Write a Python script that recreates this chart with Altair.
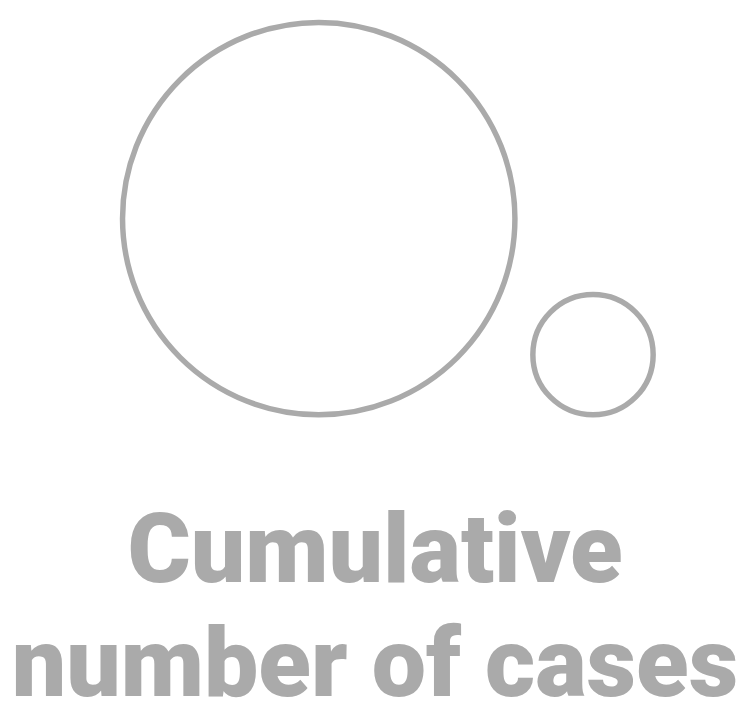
import altair as alt
import pandas as pd

# Legend values shown as circles (area proportional to cumulative cases)
legend_values = [100000, 9400]
legend_title = ["Cumulative", "number of cases"]

circle_color = "#aaaaaa"
max_area = 155236  # symbol size of the largest value (diameter squared)
left_edge = 123  # page x of the left side of the first circle
gap = 18  # space between circles
baseline = 415  # page y the circles sit on

plot_w = 737
plot_h = 432

df = pd.DataFrame({"cases": legend_values})

chart = alt.Chart(df).transform_calculate(
    r=f"sqrt(datum.cases / {max(legend_values)} * {max_area}) / 2"
).transform_calculate(
    d="2 * datum.r"
).transform_window(
    cum="sum(d)", rn="row_number()",
    sort=[alt.SortField("cases", order="descending")],
    frame=[None, 0]
).transform_calculate(
    cx=f"{left_edge} + datum.cum - datum.r + {gap} * (datum.rn - 1)",
    cy=f"{baseline} - datum.r"
).mark_point(
    filled=False, strokeWidth=5.5, color=circle_color, opacity=1, shape="circle"
).encode(
    x=alt.X("cx:Q", scale=alt.Scale(domain=[8, 8 + plot_w], nice=False, zero=False), axis=None),
    y=alt.Y("cy:Q", scale=alt.Scale(domain=[8, 8 + plot_h], nice=False, zero=False, reverse=True), axis=None),
    size=alt.Size("cases:Q", scale=alt.Scale(domain=[0, max(legend_values)], range=[0, max_area]), legend=None),
).properties(
    width=plot_w,
    height=plot_h,
    title=alt.TitleParams(
        text=legend_title,
        orient="bottom",
        anchor="middle",
        font="Roboto",
        fontWeight=900,
        fontSize=97,
        lineHeight=114,
        color=circle_color,
        baseline="alphabetic",
        offset=143,
    ),
).configure_view(stroke=None).properties(padding=0)

chart.save("out.html", embed_options={"renderer": "svg", "actions": False})
